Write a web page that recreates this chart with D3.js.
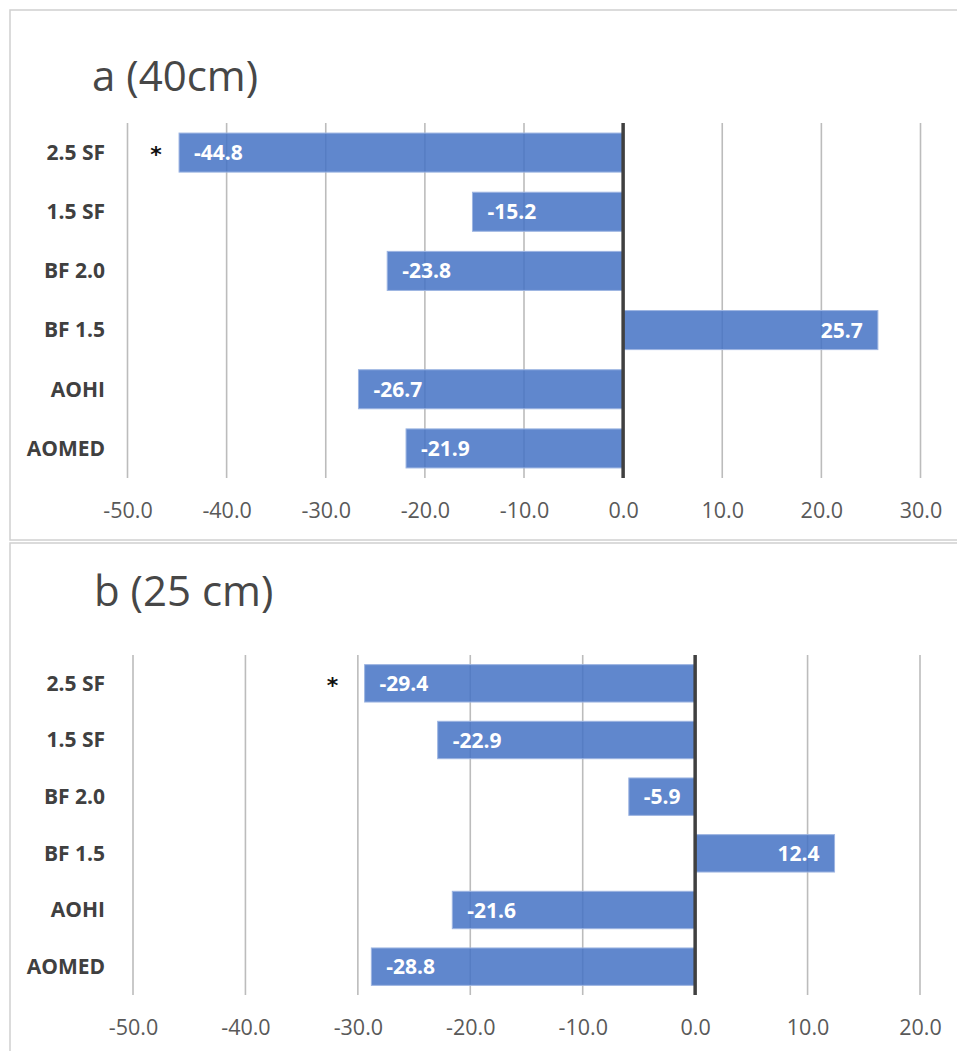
<!DOCTYPE html>
<html>
<head>
<meta charset="utf-8">
<script src="https://cdn.jsdelivr.net/npm/d3@7"></script>
<style>
  html, body { margin: 0; padding: 0; background: #fff; }
  svg { display: block; }
</style>
</head>
<body>
<svg id="chart" width="957" height="1051"></svg>
<script>
// Treatments, top to bottom
const categories = ["2.5 SF", "1.5 SF", "BF 2.0", "BF 1.5", "AOHI", "AOMED"];

// Percent change, 40 cm depth
const valuesA = [-44.8, -15.2, -23.8, 25.7, -26.7, -21.9];
// Percent change, 25 cm depth
const valuesB = [-29.4, -22.9, -5.9, 12.4, -21.6, -28.8];

// Axis tick values
const ticksA = [-50, -40, -30, -20, -10, 0, 10, 20, 30];
const ticksB = [-50, -40, -30, -20, -10, 0, 10, 20];

// Significance markers (category flagged with an asterisk)
const markedA = ["2.5 SF"];
const markedB = ["2.5 SF"];

const titles = ["a (40cm)", "b (25 cm)"];

const svg = d3.select("#chart");

const panels = [
  {
    title: titles[0], values: valuesA, ticks: ticksA, marked: markedA,
    box: { x: 10, y: 10, w: 960, h: 530 },
    titlePos: { x: 92, y: 91 },
    domain: [-50, 30], range: [127.5, 920.5],
    plotTop: 123, plotBottom: 478, tickY: 510, starGap: 23
  },
  {
    title: titles[1], values: valuesB, ticks: ticksB, marked: markedB,
    box: { x: 10, y: 543, w: 960, h: 520 },
    titlePos: { x: 94, y: 606 },
    domain: [-50, 20], range: [133, 920],
    plotTop: 655, plotBottom: 995, tickY: 1027, starGap: 32
  }
];

// One decimal, plain hyphen-minus for negatives
const fmt = d3.formatLocale({
  decimal: ".", thousands: ",", grouping: [3], currency: ["", ""], minus: "-"
}).format(".1f");

panels.forEach(p => {
  const g = svg.append("g");

  // Chart area frame
  g.append("rect")
    .attr("x", p.box.x).attr("y", p.box.y)
    .attr("width", p.box.w).attr("height", p.box.h)
    .attr("fill", "#fff")
    .attr("stroke", "#d0d0d0")
    .attr("stroke-width", 1.5);

  // Title
  g.append("text")
    .attr("x", p.titlePos.x).attr("y", p.titlePos.y)
    .attr("font-family", "'Open Sans', sans-serif")
    .attr("font-size", 42)
    .attr("fill", "#474747")
    .text(p.title);

  const x = d3.scaleLinear().domain(p.domain).range(p.range);
  const y = d3.scaleBand().domain(categories)
    .range([p.plotTop, p.plotBottom])
    .paddingInner(0.34).paddingOuter(0.17);

  // Vertical gridlines
  g.append("g").selectAll("line")
    .data(p.ticks.filter(t => t !== 0))
    .join("line")
    .attr("x1", d => x(d)).attr("x2", d => x(d))
    .attr("y1", p.plotTop).attr("y2", p.plotBottom)
    .attr("stroke", "#bcbcbc")
    .attr("stroke-width", 1.6);

  // Bottom tick labels via d3 axis (domain line and tick marks hidden)
  const axis = d3.axisBottom(x).tickValues(p.ticks).tickFormat(fmt).tickSize(0).tickPadding(0);
  const ax = g.append("g")
    .attr("transform", `translate(0,${p.tickY})`)
    .call(axis);
  ax.select(".domain").remove();
  ax.selectAll("text")
    .attr("dy", "0.35em")
    .attr("font-family", "'Open Sans', sans-serif")
    .attr("font-size", 21.5)
    .attr("fill", "#595959");

  // Category labels
  g.append("g").selectAll("text")
    .data(categories)
    .join("text")
    .attr("x", 105)
    .attr("y", d => y(d) + y.bandwidth() / 2)
    .attr("dy", "0.35em")
    .attr("text-anchor", "end")
    .attr("font-family", "'Open Sans', sans-serif")
    .attr("font-weight", "bold")
    .attr("font-size", 21)
    .attr("fill", "#404040")
    .text(d => d);

  const rows = categories.map((c, i) => ({ cat: c, v: p.values[i] }));

  // Bars
  g.append("g").selectAll("rect")
    .data(rows)
    .join("rect")
    .attr("x", d => Math.min(x(0), x(d.v)))
    .attr("y", d => y(d.cat))
    .attr("width", d => Math.abs(x(d.v) - x(0)))
    .attr("height", y.bandwidth())
    .attr("fill", "#4472c4")
    .attr("fill-opacity", 0.85)
    .attr("stroke", "#9db5e2")
    .attr("stroke-width", 1);

  // Value labels inside the outer end of each bar
  g.append("g").selectAll("text")
    .data(rows)
    .join("text")
    .attr("x", d => d.v < 0 ? x(d.v) + 15 : x(d.v) - 15)
    .attr("y", d => y(d.cat) + y.bandwidth() / 2)
    .attr("dy", "0.36em")
    .attr("text-anchor", d => d.v < 0 ? "start" : "end")
    .attr("font-family", "'Open Sans', sans-serif")
    .attr("font-weight", "bold")
    .attr("font-size", 21)
    .attr("fill", "#ffffff")
    .text(d => fmt(d.v));

  // Asterisks beside flagged bars
  g.append("g").selectAll("text")
    .data(rows.filter(d => p.marked.includes(d.cat)))
    .join("text")
    .attr("x", d => x(d.v) - p.starGap)
    .attr("y", d => y(d.cat) + y.bandwidth() / 2)
    .attr("dy", "0.45em")
    .attr("text-anchor", "middle")
    .attr("font-family", "'DejaVu Sans', sans-serif")
    .attr("font-weight", "bold")
    .attr("font-size", 22)
    .attr("fill", "#111")
    .text("*");

  // Zero baseline
  g.append("line")
    .attr("x1", x(0)).attr("x2", x(0))
    .attr("y1", p.plotTop).attr("y2", p.plotBottom)
    .attr("stroke", "#404040")
    .attr("stroke-width", 3.5);
});
</script>
</body>
</html>
